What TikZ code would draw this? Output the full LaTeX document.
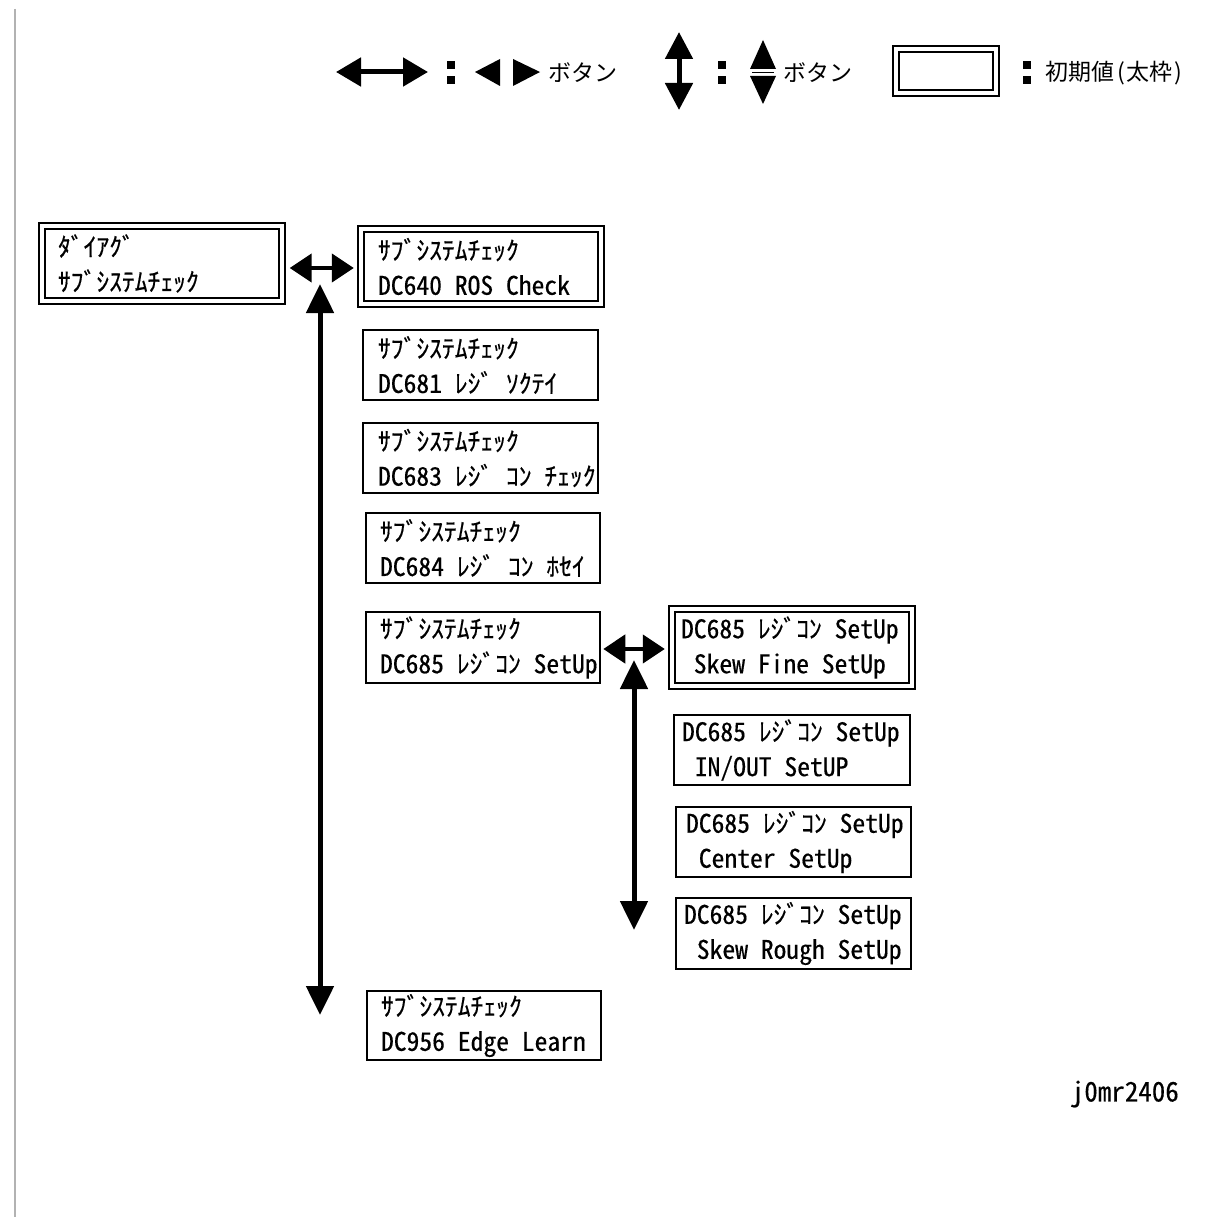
\documentclass[tikz,border=0pt]{standalone}
\usepackage{fontspec}
\usetikzlibrary{arrows.meta}
% half-width Latin so every panel character is one half-em cell
\newfontfamily\panelfamily{Noto Sans CJK JP}[RawFeature=+hwid, FakeBold=0.4]
\newfontfamily\legendfamily{Noto Sans CJK JP}
\newcommand\panelfont{\panelfamily\fontsize{25.6}{35}\selectfont
  \fontdimen2\font=12.8pt\fontdimen3\font=0pt\fontdimen4\font=0pt}
\newcommand\cell{\hspace*{12.8pt}}
% two display lines, each space one full character cell
\newcommand\twolines[2]{\spaceskip=12.8pt\relax\xspaceskip=12.8pt\relax\mbox{#1}\\\mbox{#2}}

\tikzset{
  panel/.style n args={3}{rectangle, draw, fill=white, line width=2.5,
    minimum width=#1, minimum height=#2, inner xsep=#3, inner ysep=0,
    align=left, font=\panelfont},
  mainpanel/.style={double, double distance=3.2, line width=2.4},
  harrow/.style={line width=4.5, {Triangle[length=22,width=28]}-{Triangle[length=22,width=28]}},
  varrow/.style={line width=5, {Triangle[length=29,width=27]}-{Triangle[length=29,width=27]}},
  legendtext/.style={anchor=west, inner sep=0, font=\legendfamily\fontsize{23}{26}\selectfont},
}

\begin{document}
\begin{tikzpicture}[x=1pt, y=-1pt]
\fill[white] (0,0) rectangle (1214,1217);
\path[use as bounding box] (0,0) rectangle (1214,1217);

% page margin rule
\draw[gray!60, line width=1.5] (15,9) -- (15,1217);

% ---- legend ----
\coordinate (lgL) at (336,72);
\coordinate (lgR) at (428,72);
\draw[line width=5, {Triangle[length=25,width=28]}-{Triangle[length=25,width=28]}] (lgL) -- (lgR);
\fill (447,61) rectangle (455,69);
\fill (447,76) rectangle (455,84);
\fill (475,72) -- (500,59) -- (500,86) -- cycle;
\fill (513,59) -- (513,86) -- (540,72) -- cycle;
\node[legendtext] (lgbtn1) at (548,73) {ボタン};

\coordinate (lgT) at (679,32);
\coordinate (lgB) at (679,110);
\draw[line width=5, {Triangle[length=27,width=27]}-{Triangle[length=27,width=27]}] (lgT) -- (lgB);
\fill (718,61) rectangle (726,69);
\fill (718,76) rectangle (726,84);
\fill (763,40) -- (776,69) -- (750,69) -- cycle;
\draw[line width=1.2] (752,72.5) -- (774,72.5);
\fill (750,76) -- (776,76) -- (763,104) -- cycle;
\node[legendtext] (lgbtn2) at (783,73) {ボタン};

\node[draw, mainpanel, minimum width=100, minimum height=44, inner sep=0] (lgbox) at (946,71) {};
\fill (1023,61) rectangle (1031,69);
\fill (1023,76) rectangle (1031,84);
\node[legendtext] (lgdef) at (1045,73) {初期値\kern3pt(\kern2pt 太枠\kern2pt)};

% ---- top level menu ----
\node[panel={240}{75}{16}, mainpanel, text width=208] (diag) at (162,263.5)
  {\twolines{ﾀﾞｲｱｸﾞ}{ｻﾌﾞｼｽﾃﾑﾁｪｯｸ}};

% ---- subsystem check items ----
\node[panel={240}{75}{17}, mainpanel, text width=206] (ros) at (481,266.5)
  {\twolines{ｻﾌﾞｼｽﾃﾑﾁｪｯｸ}{DC640 ROS Check}};
\node[panel={235}{70}{15}, text width=205] (sokutei) at (480.5,365)
  {\twolines{ｻﾌﾞｼｽﾃﾑﾁｪｯｸ}{DC681 ﾚｼﾞ ｿｸﾃｲ}};
\node[panel={235}{70}{15}, text width=205] (check) at (480.5,458)
  {\twolines{ｻﾌﾞｼｽﾃﾑﾁｪｯｸ}{DC683 ﾚｼﾞ ｺﾝ ﾁｪｯｸ}};
\node[panel={234}{70}{14}, text width=206] (hosei) at (483,548)
  {\twolines{ｻﾌﾞｼｽﾃﾑﾁｪｯｸ}{DC684 ﾚｼﾞ ｺﾝ ﾎｾｲ}};
\node[panel={234}{71}{14}, text width=206] (setup) at (483,647.5)
  {\twolines{ｻﾌﾞｼｽﾃﾑﾁｪｯｸ}{DC685 ﾚｼﾞｺﾝ SetUp}};
\node[panel={234}{69}{14}, text width=206] (edge) at (484,1025.5)
  {\twolines{ｻﾌﾞｼｽﾃﾑﾁｪｯｸ}{DC956 Edge Learn}};

% ---- DC685 set-up items ----
\node[panel={240}{77}{9}, mainpanel, text width=222] (fine) at (792,647.5)
  {\twolines{DC685 ﾚｼﾞｺﾝ SetUp}{\cell Skew Fine SetUp}};
\node[panel={236}{70}{8}, text width=220] (inout) at (792,750)
  {\twolines{DC685 ﾚｼﾞｺﾝ SetUp}{\cell IN/OUT SetUP}};
\node[panel={235}{70}{10}, text width=215] (center) at (793.5,842)
  {\twolines{DC685 ﾚｼﾞｺﾝ SetUp}{\cell Center SetUp}};
\node[panel={235}{71}{8}, text width=219] (rough) at (793.5,933.5)
  {\twolines{DC685 ﾚｼﾞｺﾝ SetUp}{\cell Skew Rough SetUp}};

% ---- button connectors ----
\coordinate (row1) at (0,268);
\draw[harrow, shorten <=6.5, shorten >=6] (diag.east |- row1) -- (ros.west |- row1);
\coordinate (row2) at (0,649);
\draw[harrow, shorten <=2, shorten >=6] (setup.east |- row2) -- (fine.west |- row2);

\coordinate (col1top) at (320,284);
\coordinate (col1bot) at (320,1015);
\draw[varrow] (col1top) -- (col1bot);
\coordinate (col2top) at (634,660);
\coordinate (col2bot) at (634,930);
\draw[varrow] (col2top) -- (col2bot);

% drawing number
\node[anchor=east, inner sep=0, font=\panelfamily\fontsize{27}{30}\selectfont] (fig) at (1179,1094) {j0mr2406};
\end{tikzpicture}
\end{document}
